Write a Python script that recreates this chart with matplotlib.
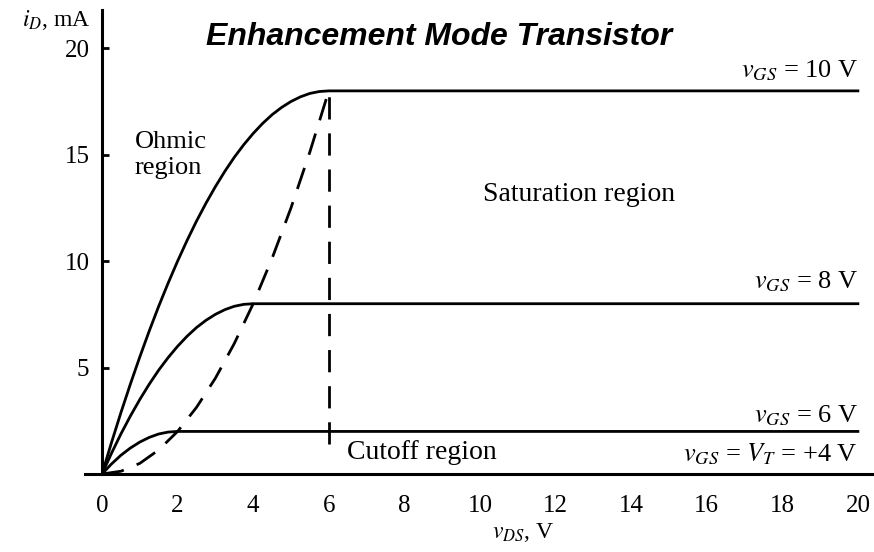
import matplotlib
matplotlib.use("Agg")
import matplotlib.pyplot as plt

plt.rcParams['font.family'] = ['Liberation Serif', 'DejaVu Serif']
plt.rcParams['mathtext.fontset'] = 'stix'

# curves (v_DS in V, i_D in mA)
vds_10 = [0, 0.25, 0.5, 0.75, 1, 1.25, 1.5, 1.75, 2, 2.25, 2.5, 2.75, 3, 3.25, 3.5,
          3.75, 4, 4.25, 4.5, 4.75, 5, 5.25, 5.5, 5.75, 6, 20]
id_10 = [0, 1.47, 2.88, 4.22, 5.5, 6.72, 7.88, 8.97, 10, 10.97, 11.88, 12.72, 13.5, 14.22, 14.88,
         15.47, 16, 16.47, 16.88, 17.22, 17.5, 17.72, 17.88, 17.97, 18, 18]

vds_8 = [0, 0.25, 0.5, 0.75, 1, 1.25, 1.5, 1.75, 2, 2.25, 2.5, 2.75, 3, 3.25, 3.5, 3.75, 4, 20]
id_8 = [0, 0.97, 1.88, 2.72, 3.5, 4.22, 4.88, 5.47, 6, 6.47, 6.88, 7.22, 7.5, 7.72, 7.88, 7.97, 8, 8]

vds_6 = [0, 0.25, 0.5, 0.75, 1, 1.25, 1.5, 1.75, 2, 20]
id_6 = [0, 0.47, 0.88, 1.22, 1.5, 1.72, 1.88, 1.97, 2, 2]

vds_4 = [0, 20.4]
id_4 = [0, 0]

# boundary between ohmic and saturation (dashed)
edge_v = [0, 0.5, 1, 1.5, 2, 2.5, 3, 3.5, 4, 4.5, 5, 5.5, 6]
edge_i = [0, 0.13, 0.5, 1.13, 2, 3.13, 4.5, 6.13, 8, 10.13, 12.5, 15.13, 18]
cut_v = [6, 6]
cut_i = [1.4, 18]

xticks = [0, 2, 4, 6, 8, 10, 12, 14, 16, 18, 20]
yticks = [5, 10, 15, 20]

fig = plt.figure(figsize=(8.74, 5.52), dpi=100)
ax = fig.add_axes([102 / 874, 78 / 552, 771 / 874, 464 / 552])

lw = 2.0
ax.plot(vds_10, id_10, color='black', lw=lw)
ax.plot(vds_8, id_8, color='black', lw=lw)
ax.plot(vds_6, id_6, color='black', lw=lw)
ax.plot(vds_4, id_4, color='black', lw=lw, clip_on=False)
ax.plot(edge_v, edge_i, color='black', lw=2, dashes=(8, 5))
ax.plot(cut_v, cut_i, color='black', lw=2, dashes=(8, 5))

ax.set_xlim(0, 20.4)
ax.set_ylim(0, 21.8)
for s in ['top', 'right']:
    ax.spines[s].set_visible(False)
ax.spines['left'].set_linewidth(2.2)
ax.spines['bottom'].set_linewidth(2.2)
ax.spines['bottom'].set_bounds(-0.45, 20.4)

ax.set_xticks(xticks)
ax.set_xticklabels([str(t) for t in xticks])
ax.set_yticks(yticks)
ax.set_yticklabels([str(t) for t in yticks])
ax.tick_params(axis='x', length=0, pad=15, labelsize=18)
ax.tick_params(axis='y', direction='in', length=5, width=2, pad=9, labelsize=18)

fig.text(91 / 874, 1 - 20 / 552, r'$i_D$, mA', ha='right', va='center', fontsize=17)
fig.text(523 / 874, 1 - 532 / 552, r'$v_{DS}$, V', ha='center', va='center', fontsize=17)

fig.text(439 / 874, 1 - 37 / 552, 'Enhancement Mode Transistor', ha='center', va='center',
         fontsize=23, fontweight='bold', fontstyle='italic', family=['Liberation Sans'])

ax.text(20, 18.38, r'$v_{GS}$ = 10 V', ha='right', va='bottom', fontsize=19)
ax.text(20, 8.45, r'$v_{GS}$ = 8 V', ha='right', va='bottom', fontsize=19)
ax.text(20, 2.18, r'$v_{GS}$ = 6 V', ha='right', va='bottom', fontsize=19)
ax.text(20, 0.32, r'$v_{GS}$ = $V_T$ = +4 V', ha='right', va='bottom', fontsize=19)

ax.text(0.87, 15.0, 'Ohmic\nregion', ha='left', va='center', fontsize=19, linespacing=1.25)
ax.text(10.08, 13.15, 'Saturation region', ha='left', va='center', fontsize=20)
ax.text(6.48, 1.03, 'Cutoff region', ha='left', va='center', fontsize=20)

fig.savefig('out.png', dpi=100)
